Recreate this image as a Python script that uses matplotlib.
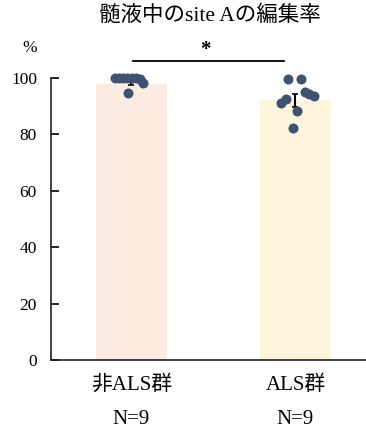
import matplotlib.pyplot as plt
import matplotlib.transforms as mtransforms

plt.rcParams['font.family'] = ['Liberation Serif', 'Noto Sans CJK JP']

groups = ["非ALS群", "ALS群"]
n_labels = ["N=9", "N=9"]
bar_means = [98.0, 92.1]
bar_sem = [0.6, 2.2]
bar_colors = ["#fcebe0", "#fdf4dc"]
# individual samples (editing rate, %)
vals_nonals = [100.2, 100.2, 100.2, 100.2, 100.2, 100.2, 99.8, 98.1, 94.6]
offs_nonals = [-0.10, -0.075, -0.05, -0.025, 0.005, 0.03, 0.05, 0.07, -0.02]
vals_als = [99.6, 99.6, 94.9, 94.5, 93.8, 92.4, 91.0, 88.2, 82.2]
offs_als = [-0.045, 0.035, 0.06, 0.085, 0.115, -0.06, -0.09, 0.01, -0.015]
title = "髄液中のsite Aの編集率"
sig_mark = "*"

fig = plt.figure(figsize=(3.66, 4.29), dpi=100)
ax = fig.add_axes([0.139, 0.161, 0.861, 0.657])

x = [0, 1]
ax.bar(x, bar_means, width=0.43, color=bar_colors, zorder=1)
ax.errorbar(x, bar_means, yerr=bar_sem, fmt="none", ecolor="black",
            elinewidth=1.5, capsize=2.5, capthick=1.2, zorder=3)

dot_color = "#3f5272"
for xi, vals, offs in [(0, vals_nonals, offs_nonals), (1, vals_als, offs_als)]:
    ax.scatter([xi + o for o in offs], vals, s=52, color=dot_color,
               zorder=4, clip_on=False, linewidths=0)

ax.set_xlim(-0.49, 1.43)
ax.set_ylim(0, 100)
ax.set_yticks([0, 20, 40, 60, 80, 100])
ax.tick_params(axis="y", direction="in", length=6, width=1.2, labelsize=12.5, pad=10)
ax.set_xticks(x)
ax.set_xticklabels(groups, fontsize=15)
ax.tick_params(axis="x", length=0, pad=11)
trans = mtransforms.blended_transform_factory(ax.transData, fig.transFigure)
for xi, n in zip(x, n_labels):
    fig.text(xi, 1 - 419 / 429, n, transform=trans, ha="center", va="center", fontsize=15)
for s in ["top", "right"]:
    ax.spines[s].set_visible(False)
ax.spines["left"].set_linewidth(1.2)
ax.spines["bottom"].set_linewidth(1.2)
ax.spines["left"].set_color("#222222")
ax.spines["bottom"].set_color("#222222")

# significance bar
ax.plot([0.01, 0.93], [105.9, 105.9], color="black", lw=1.3, clip_on=False)
ax.text(0.45, 106.5, sig_mark, ha="center", va="bottom", fontsize=15,
        fontweight="bold", clip_on=False)

fig.text(0.574, 0.963, title, ha="center", va="center", fontsize=15.5)
fig.text(0.082, 0.888, "%", ha="center", va="center", fontsize=12.5)

fig.savefig("out.png", dpi=100)
